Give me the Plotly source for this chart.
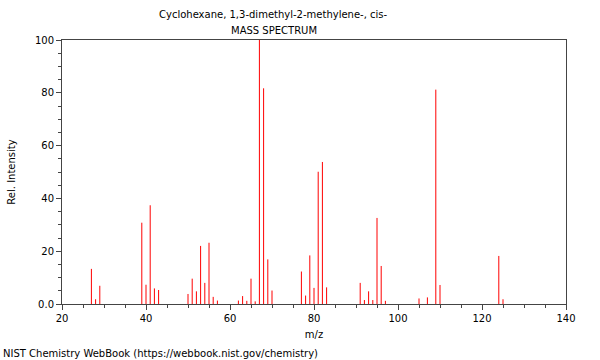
import plotly.graph_objects as go

title_line1 = "Cyclohexane, 1,3-dimethyl-2-methylene-, cis-"
title_line2 = "MASS SPECTRUM"
footer = "NIST Chemistry WebBook (https://webbook.nist.gov/chemistry)"

mz = [27, 28, 29, 39, 40, 41, 42, 43, 50, 51, 52, 53, 54, 55, 56, 57,
      62, 63, 64, 65, 66, 67, 68, 69, 70, 77, 78, 79, 80, 81, 82, 83,
      91, 92, 93, 94, 95, 96, 97, 105, 107, 109, 110, 124, 125]
intensity = [13.3, 1.8, 6.9, 30.8, 7.3, 37.4, 5.9, 5.3, 3.8, 9.6, 4.8, 22.0, 8.0, 23.2, 2.7, 1.3,
             1.3, 3.0, 1.2, 9.6, 1.0, 100.0, 81.7, 16.9, 5.1, 12.3, 3.2, 18.4, 6.1, 50.1, 53.8, 6.3,
             8.0, 1.5, 4.8, 1.5, 32.6, 14.4, 1.2, 2.1, 2.5, 81.2, 7.2, 18.2, 1.8]

y_tick_vals = [0, 20, 40, 60, 80, 100]
y_tick_text = ["0.0", "20", "40", "60", "80", "100"]
x_tick_vals = [20, 40, 60, 80, 100, 120, 140]

xs, ys = [], []
for m, v in zip(mz, intensity):
    xs += [m, m, None]
    ys += [0, v, None]

font = "DejaVu Sans, sans-serif"
fs = 10
fig = go.Figure()
fig.add_trace(go.Scatter(x=xs, y=ys, mode="lines", line=dict(color="#ff0000", width=1),
                         hoverinfo="skip", showlegend=False))

axis_common = dict(showgrid=False, zeroline=False, showline=True, linecolor="#444444",
                   linewidth=1, mirror=True, ticks="outside", ticklen=5, tickcolor="#444444",
                   tickfont=dict(family=font, size=fs, color="#000000"))
fig.update_xaxes(range=[20, 140], tickvals=x_tick_vals,
                 minor=dict(dtick=5, ticks="outside", ticklen=3, tickcolor="#444444"),
                 title=dict(text="m/z", font=dict(family=font, size=fs, color="#000"), standoff=7),
                 **axis_common)
fig.update_yaxes(range=[0, 100], tickvals=y_tick_vals, ticktext=y_tick_text,
                 minor=dict(dtick=5, ticks="outside", ticklen=3, tickcolor="#444444"),
                 title=dict(text="Rel. Intensity", font=dict(family=font, size=fs, color="#000"), standoff=17),
                 **axis_common)

fig.update_layout(
    width=600, height=360,
    margin=dict(l=62, r=34, t=40, b=56),
    paper_bgcolor="white", plot_bgcolor="white",
    font=dict(family=font, size=fs, color="#000"),
    annotations=[
        dict(text=title_line1, xref="paper", yref="paper", x=0.42, y=1, yshift=26,
             showarrow=False, xanchor="center", yanchor="middle", font=dict(size=fs)),
        dict(text=title_line2, xref="paper", yref="paper", x=0.42, y=1, yshift=10,
             showarrow=False, xanchor="center", yanchor="middle", font=dict(size=fs)),
        dict(text=footer, xref="paper", yref="paper", x=-61/504, y=0, yshift=-49,
             showarrow=False, xanchor="left", yanchor="middle", font=dict(size=fs)),
    ],
)
fig.write_html("out.html", config={"displayModeBar": False},
               post_script="document.body.style.margin='0';")
